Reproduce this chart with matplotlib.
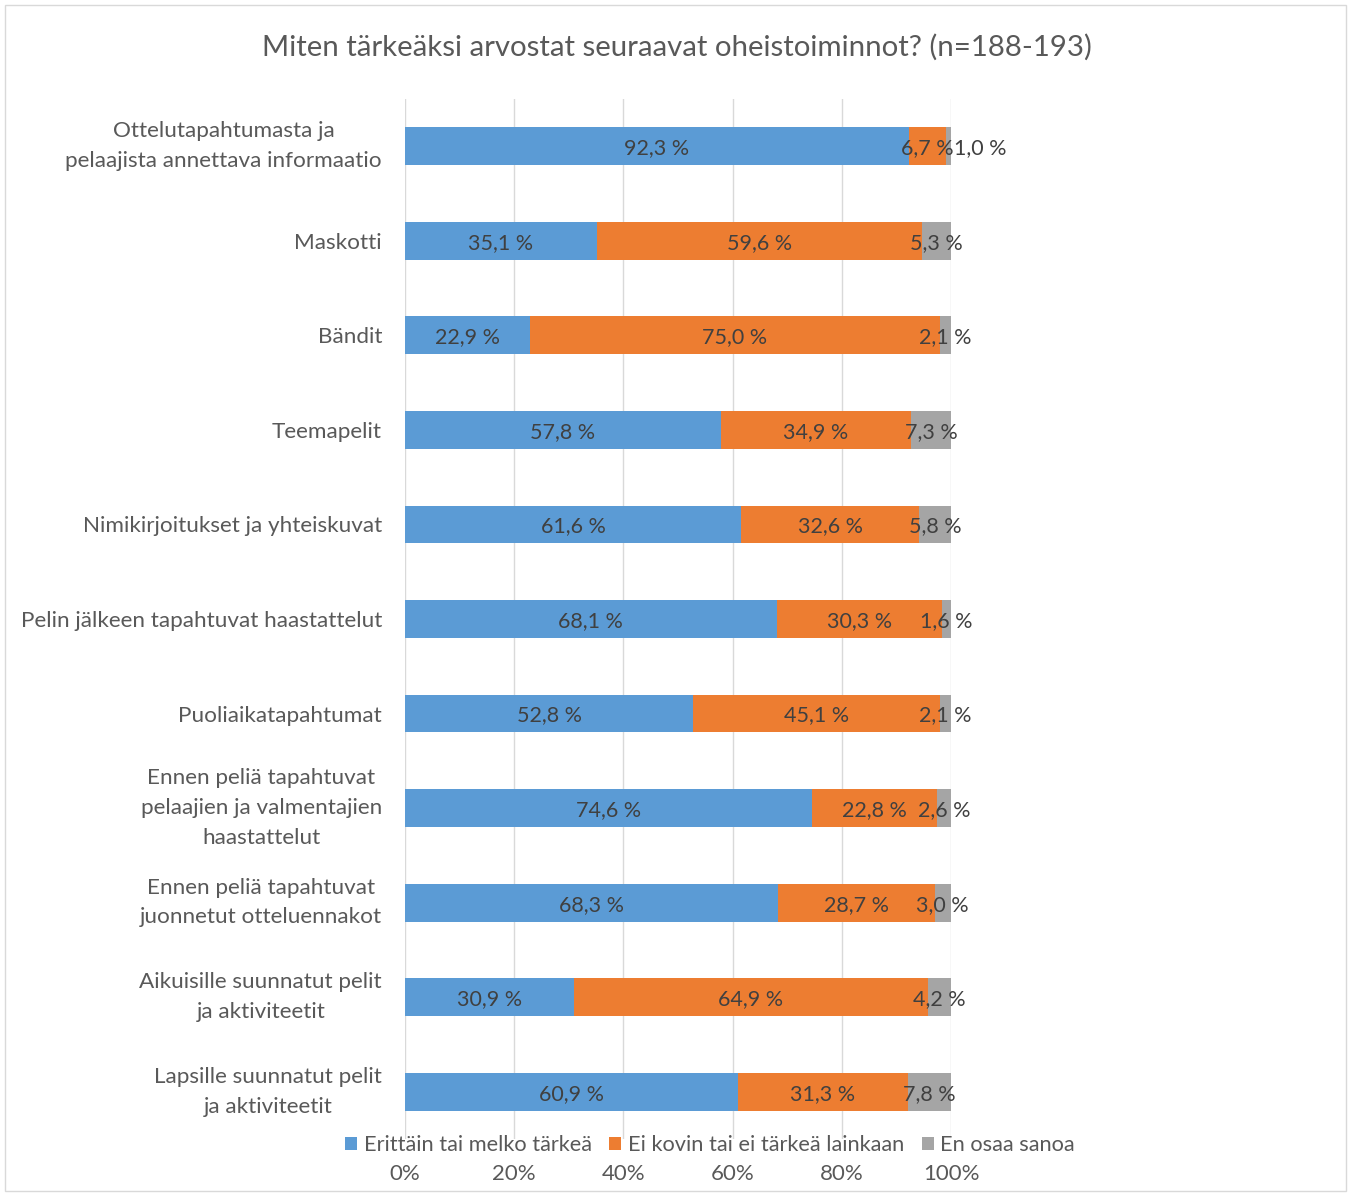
import matplotlib
matplotlib.use("Agg")
import matplotlib.pyplot as plt
from matplotlib.patches import Rectangle

categories = [
    "Ottelutapahtumasta ja\npelaajista annettava informaatio",
    "Maskotti",
    "Bändit",
    "Teemapelit",
    "Nimikirjoitukset ja yhteiskuvat",
    "Pelin jälkeen tapahtuvat haastattelut",
    "Puoliaikatapahtumat",
    "Ennen peliä tapahtuvat\npelaajien ja valmentajien\nhaastattelut",
    "Ennen peliä tapahtuvat\njuonnetut otteluennakot",
    "Aikuisille suunnatut pelit\nja aktiviteetit",
    "Lapsille suunnatut pelit\nja aktiviteetit",
]
important = [92.3, 35.1, 22.9, 57.8, 61.6, 68.1, 52.8, 74.6, 68.3, 30.9, 60.9]
not_important = [6.7, 59.6, 75.0, 34.9, 32.6, 30.3, 45.1, 22.8, 28.7, 64.9, 31.3]
dont_know = [1.0, 5.3, 2.1, 7.3, 5.8, 1.6, 2.1, 2.6, 3.0, 4.2, 7.8]
series_names = ["Erittäin tai melko tärkeä", "Ei kovin tai ei tärkeä lainkaan", "En osaa sanoa"]
colors = ["#5B9BD5", "#ED7D31", "#A5A5A5"]
title = "Miten tärkeäksi arvostat seuraavat oheistoiminnot? (n=188-193)"
xticks = [0, 20, 40, 60, 80, 100]
xticklabels = ["0%", "20%", "40%", "60%", "80%", "100%"]

plt.rcParams['font.family'] = ['Lato', 'DejaVu Sans']
txt = "#404040"
axc = "#595959"

W, H = 1351, 1196
fig = plt.figure(figsize=(W / 100, H / 100), dpi=100)
ax = fig.add_axes([405 / W, 1 - 1139 / H, (951 - 405) / W, (1139 - 99) / H])

n = len(categories)
ypos = list(range(n))
left = [0.0] * n
data = [important, not_important, dont_know]
for s, (vals, col, name) in enumerate(zip(data, colors, series_names)):
    ax.barh(ypos, vals, left=left, height=0.4, color=col, label=name, zorder=3)
    for i, (v, l) in enumerate(zip(vals, left)):
        lab = f"{v:.1f} %".replace(".", ",")
        cx = l + v / 2
        ha = "center"
        if v < 2.0 and s == 2 and not_important[i] < 10:
            cx = l + v + 0.5
            ha = "left"
        ax.text(cx, i, lab, ha=ha, va="center_baseline", fontsize=15.5, color=txt, zorder=4)
    left = [a + b for a, b in zip(left, vals)]

ax.set_ylim(n - 0.5, -0.5)
ax.set_xlim(0, 100)
ax.set_yticks(ypos)
ax.set_yticklabels(categories, fontsize=16.2, color=axc, multialignment="center", linespacing=1.6)
for lbl in ax.get_yticklabels():
    if "\n" in lbl.get_text():
        lbl.set_verticalalignment("center")
ax.set_xticks(xticks)
ax.set_xticklabels(xticklabels, fontsize=16, color=axc)
ax.tick_params(axis="both", length=0)
ax.tick_params(axis="x", pad=18)
ax.tick_params(axis="y", pad=16.5)
ax.grid(axis="x", color="#D9D9D9", linewidth=1, zorder=0)
for sp in ax.spines.values():
    sp.set_visible(False)

fig.legend(loc="center", bbox_to_anchor=(710 / W, 1 - 1145 / H), ncol=3, frameon=False,
           fontsize=15.7, handlelength=0.55, handleheight=0.55, handletextpad=0.3,
           columnspacing=0.8, labelcolor=axc)

fig.text(677 / W, 1 - 47 / H, title, ha="center", va="center", fontsize=21.2, color=axc)

fig.patches.append(Rectangle((5 / W, 5 / H), 1 - 10 / W, 1 - 10 / H, transform=fig.transFigure,
                             fill=False, edgecolor="#D9D9D9", linewidth=1))

fig.savefig("out.png", dpi=100)
